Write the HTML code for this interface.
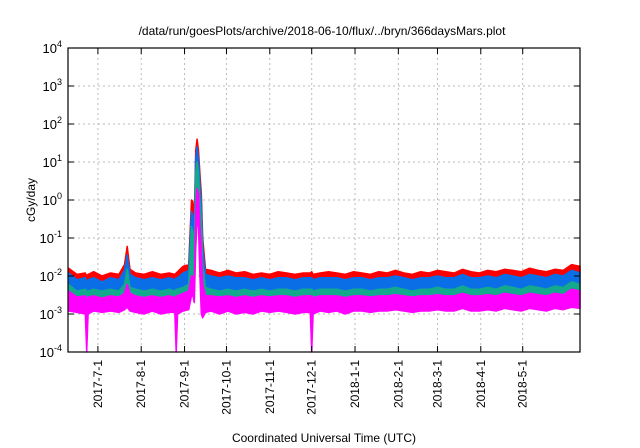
<!DOCTYPE html>
<html><head><meta charset="utf-8"><style>
body{margin:0;background:#fff;}
svg{display:block;font-family:"Liberation Sans",sans-serif;}
</style></head><body>
<svg id="chart" width="640" height="448" viewBox="0 0 640 448">
<text x="322" y="35" font-size="12" text-anchor="middle">/data/run/goesPlots/archive/2018-06-10/flux/../bryn/366daysMars.plot</text>
<text transform="translate(35,200) rotate(-90)" font-size="12" text-anchor="middle">cGy/day</text>
<text x="324" y="442" font-size="12" text-anchor="middle">Coordinated Universal Time (UTC)</text>
<g id="grid"></g><g id="series"></g><g id="axes"></g>
</svg>
<script>
const days=[0,6,12,13,14,18,24,30,36,40,42,44,48,54,60,66,72,76,77,78,82,86,88,89,90,91,92,93,94,95,96,98,102,108,114,120,126,132,138,144,150,156,162,168,173,174,175,180,186,192,198,204,210,216,222,228,234,240,246,252,258,264,270,276,282,288,294,300,306,312,318,324,330,336,342,348,354,360,366];
const redVals=[.016,.011,.012,.01,.011,.013,.01,.012,.011,.02,.06,.015,.012,.011,.013,.011,.012,.011,.012,.013,.018,.02,1.0,.9,.3,20,40,20,5,1.5,.1,.015,.014,.012,.014,.012,.013,.011,.012,.011,.013,.012,.011,.012,.012,.013,.011,.012,.013,.012,.011,.013].concat([.012,.011,.013,.012,.014,.012,.011,.013,.012,.014,.013,.012,.015,.013,.012,.014,.013,.015,.014,.013,.016,.014,.013,.015,.014,.02,.018]);
const blueVals=[.012,.008,.009,.007,.008,.009,.007,.009,.008,.014,.035,.011,.009,.008,.009,.008,.009,.008,.009,.009,.012,.014,.5,.4,.15,12,25,12,3,.8,.06,.011,.01,.009,.01,.009,.009,.008,.009,.008,.009,.009,.008,.009,.009,.009,.008,.009,.009,.009,.008,.009].concat([.009,.008,.009,.009,.01,.009,.008,.009,.009,.01,.009,.009,.011,.009,.009,.01,.009,.011,.01,.009,.011,.01,.009,.011,.01,.014,.012]);
const tealVals=[.006,.004,.0045,.004,.004,.0045,.004,.0045,.004,.006,.015,.005,.0045,.004,.0045,.004,.0045,.004,.0045,.0045,.005,.006,.2,.15,.05,5,10,5,1,.3,.02,.005,.0045,.004,.0045,.004,.0045,.004,.0045,.004,.0045,.0045,.004,.0045,.0045,.0045,.004,.0045,.0045,.0045,.004,.0045].concat([.0045,.004,.0045,.0045,.005,.0045,.004,.0045,.0045,.005,.0045,.0045,.0055,.0045,.0045,.005,.0045,.0055,.005,.0045,.0055,.005,.0045,.0055,.005,.007,.006]);
const magTopVals=[.004,.0028,.003,.0025,.0028,.003,.0026,.003,.0028,.0035,.006,.0035,.003,.0027,.003,.0027,.003,.0027,.003,.003,.0035,.004,.01,.01,.005,.5,2,1.5,.2,.05,.006,.003,.003,.0028,.003,.0027,.003,.0027,.003,.0028,.003,.003,.0027,.003,.003,.003,.0027,.003,.003,.003,.0027,.003].concat([.003,.0028,.003,.003,.0032,.003,.0028,.003,.003,.0032,.003,.003,.0035,.003,.003,.0032,.003,.0035,.0032,.003,.0035,.0032,.003,.0035,.0032,.0045,.004]);
const magBotVals=[.0012,.0011,.001,.0001,.001,.0012,.0011,.0012,.0011,.0013,.0015,.0012,.0011,.001,.0012,.001,.0011,.0011,.0001,.001,.0012,.0013,.003,.003,.002,.05,.3,.2,.01,.001,.0008,.0011,.0012,.001,.0012,.001,.0011,.001,.0012,.0011,.0012,.0011,.001,.0011,.0011,.0001,.001,.0012,.0011,.0012,.001,.0012].concat([.0012,.0011,.0012,.0012,.0013,.0012,.0011,.0012,.0012,.0013,.0012,.0012,.0014,.0012,.0012,.0013,.0012,.0014,.0013,.0012,.0014,.0013,.0012,.0014,.0013,.0015,.0014]);
const xTickDays=[21,52,83,113,144,174,205,236,264,295,325];
const xTickLabels=["2017-7-1","2017-8-1","2017-9-1","2017-10-1","2017-11-1","2017-12-1","2018-1-1","2018-2-1","2018-3-1","2018-4-1","2018-5-1"];
const yTickExps=[-4,-3,-2,-1,0,1,2,3,4];

const L=68,R=580,T=48,B=352;
const d0=-0.4,d1=366;
const X=d=>L+(d-d0)/(d1-d0)*(R-L);
const Y=v=>{let e=Math.log10(Math.max(v,1e-4));e=Math.min(e,4);return B-(e+4)/8*(B-T);};
const NS="http://www.w3.org/2000/svg";
function mk(tag,attrs,parent){const e=document.createElementNS(NS,tag);for(const k in attrs)e.setAttribute(k,attrs[k]);parent.appendChild(e);return e;}
const grid=document.getElementById('grid'),ser=document.getElementById('series'),axes=document.getElementById('axes');

yTickExps.forEach(e=>{
  const y=Y(Math.pow(10,e));
  if(e>-4&&e<4){const g=mk('line',{x1:L,x2:R,y1:y,y2:y,stroke:'#bbb','stroke-width':1,'stroke-dasharray':'2,3'},grid);
  
  }
  const t1=mk('line',{x1:L,x2:L+6,y1:y,y2:y,stroke:'#000'},axes);
  
  
  const t2=mk('line',{x1:R-6,x2:R,y1:y,y2:y,stroke:'#000'},axes);
  
  
  const tx=mk('text',{x:L-6,y:y+5,'font-size':13,'text-anchor':'end'},axes);
  
  
  tx.innerHTML='10<tspan dy="-6" font-size="9">'+e+'</tspan>';
});
xTickDays.forEach((d,i)=>{
  const x=X(d);
  const g=mk('line',{x1:x,x2:x,y1:T,y2:B,stroke:'#bbb','stroke-width':1,'stroke-dasharray':'2,3'},grid);
  
  
  const t1=mk('line',{x1:x,x2:x,y1:B-6,y2:B,stroke:'#000'},axes);
  
  
  const t2=mk('line',{x1:x,x2:x,y1:T,y2:T+6,stroke:'#000'},axes);
  
  
  const tx=mk('text',{transform:'translate('+(x+4)+','+(B+8)+') rotate(-90)','font-size':12,'text-anchor':'end'},axes);
  
  
  tx.textContent=xTickLabels[i];
});
function band(top,bot,color,name){
  let p=days.map((d,i)=>X(d).toFixed(1)+','+Y(top[i]).toFixed(1));
  for(let i=days.length-1;i>=0;i--)p.push(X(days[i]).toFixed(1)+','+Y(bot[i]).toFixed(1));
  const e=mk('polygon',{points:p.join(' '),fill:color,stroke:color,'stroke-width':1.5,'stroke-linejoin':'round'},ser);
  
  
}
band(redVals,blueVals,'#ff0000','series-red');
band(blueVals,tealVals,'#0a6fe6','series-blue');
band(tealVals,magTopVals,'#14a88c','series-teal');
band(magTopVals,magBotVals,'#ff00ff','series-magenta');
const fr=mk('rect',{x:L,y:T,width:R-L,height:B-T,fill:'none',stroke:'#000','stroke-width':1.2},axes);


</script>
</body></html>
